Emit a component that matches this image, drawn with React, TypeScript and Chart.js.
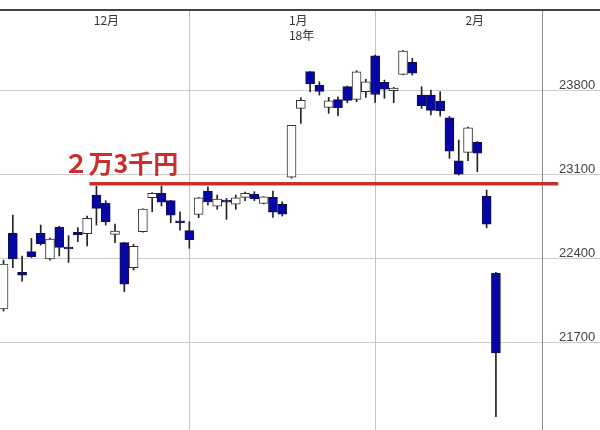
import { useEffect, useRef } from 'react';
import { Chart, registerables } from 'chart.js';

Chart.register(...registerables);

// Trading days (Nikkei 225 daily candles)
const days = [
  '2017-11-16', '2017-11-17', '2017-11-20', '2017-11-21', '2017-11-22', '2017-11-24', '2017-11-27', '2017-11-28', '2017-11-29', '2017-11-30',
  '2017-12-01', '2017-12-04', '2017-12-05', '2017-12-06', '2017-12-07', '2017-12-08', '2017-12-11', '2017-12-12', '2017-12-13', '2017-12-14',
  '2017-12-15', '2017-12-18', '2017-12-19', '2017-12-20', '2017-12-21', '2017-12-22', '2017-12-25', '2017-12-26', '2017-12-27', '2017-12-28',
  '2017-12-29', '2018-01-04', '2018-01-05', '2018-01-09', '2018-01-10', '2018-01-11', '2018-01-12', '2018-01-15', '2018-01-16', '2018-01-17',
  '2018-01-18', '2018-01-19', '2018-01-22', '2018-01-23', '2018-01-24', '2018-01-25', '2018-01-26', '2018-01-29', '2018-01-30', '2018-01-31',
  '2018-02-01', '2018-02-02', '2018-02-05', '2018-02-06',
];

const opens = [
  21975, 22606, 22281, 22453, 22606, 22392, 22656, 22492, 22614, 22603,
  22925, 22856, 22597, 22528, 22319, 22619, 22903, 22939, 22878, 22703,
  22628, 22764, 22958, 22833, 22869, 22848, 22906, 22933, 22856, 22906,
  22848, 23073, 23647, 23953, 23842, 23656, 23720, 23828, 23722, 23786,
  24086, 23864, 23794, 23931, 24031, 23758, 23758, 23708, 23569, 23211,
  23281, 23364, 22917, 22273,
];
const highs = [
  22383, 22758, 22417, 22564, 22675, 22567, 22665, 22586, 22653, 22750,
  23000, 22878, 22683, 22530, 22514, 22811, 22945, 23000, 22880, 22786,
  22703, 22905, 22994, 22925, 22897, 22925, 22950, 22953, 22911, 22958,
  22869, 23506, 23736, 23953, 23869, 23739, 23744, 23834, 23961, 23889,
  24092, 23883, 23822, 24129, 24064, 23828, 23800, 23786, 23580, 23383,
  23492, 23370, 22967, 22280,
];
const lows = [
  21958, 22320, 22208, 22405, 22508, 22383, 22417, 22364, 22536, 22500,
  22675, 22675, 22528, 22119, 22300, 22615, 22786, 22833, 22694, 22633,
  22481, 22736, 22842, 22806, 22722, 22806, 22878, 22878, 22850, 22739,
  22750, 23065, 23522, 23786, 23758, 23606, 23586, 23694, 23703, 23739,
  23697, 23731, 23694, 23925, 23925, 23647, 23592, 23583, 23231, 23092,
  23211, 23119, 22652, 21078,
];
const closes = [
  22350, 22392, 22258, 22411, 22519, 22558, 22489, 22475, 22592, 22731,
  22814, 22703, 22625, 22183, 22498, 22808, 22939, 22866, 22758, 22694,
  22553, 22901, 22868, 22891, 22866, 22902, 22939, 22892, 22911, 22783,
  22765, 23506, 23715, 23850, 23788, 23710, 23653, 23714, 23951, 23868,
  23763, 23808, 23816, 24124, 23940, 23669, 23631, 23629, 23291, 23098,
  23486, 23274, 22682, 21610,
];

const yTicks = [21700, 22400, 23100, 23800];
const yMin = 20967;
const yMax = 24467;
const xMin = -0.38;
const xMax = 57.96;

const levelValue = 23020;
const levelLabel = '２万3千円';
const levelStart = 9.25;
const levelEnd = 59.7;

const RED = '#c8302f';
const BLUE = '#0606a4';

// month boundaries derived from the trading days
const boundaries: { value: number; label: string; year?: string }[] = [];
for (let i = 1; i < days.length; i++) {
  const [py, pm] = days[i - 1].split('-');
  const [cy, cm] = days[i].split('-');
  if (pm !== cm) {
    boundaries.push({
      value: i - 0.5,
      label: `${parseInt(cm, 10)}月`,
      year: py !== cy ? `${cy.slice(2)}年` : undefined,
    });
  }
}

const overlayPlugin = {
  id: 'overlayText',
  afterDraw(chart: any) {
    const { ctx, chartArea } = chart;
    const x = chart.scales.x;
    const y = chart.scales.y;
    ctx.save();
    // top frame line across the whole width
    ctx.strokeStyle = '#444444';
    ctx.lineWidth = 2;
    ctx.beginPath();
    ctx.moveTo(0, chartArea.top);
    ctx.lineTo(chart.width, chartArea.top);
    ctx.stroke();

    ctx.font = '12px "Noto Sans CJK JP"';
    ctx.fillStyle = '#333';
    ctx.textBaseline = 'top';
    ctx.textAlign = 'left';
    boundaries.forEach((b) => {
      const px = x.getPixelForValue(b.value) + 2;
      ctx.fillText(b.label, px, chartArea.top + 4);
      if (b.year) ctx.fillText(b.year, px, chartArea.top + 19);
    });
    ctx.font = 'bold 25px "Noto Sans CJK JP"';
    ctx.fillStyle = RED;
    ctx.textBaseline = 'alphabetic';
    const ly = y.getPixelForValue(levelValue);
    ctx.fillText(levelLabel, x.getPixelForValue(levelStart) - 26, ly - 11);
    ctx.restore();
  },
};

export default function App() {
  const canvasRef = useRef<HTMLCanvasElement | null>(null);

  useEffect(() => {
    if (!canvasRef.current) return;
    const up = (i: number) => closes[i] >= opens[i];
    const chart = new Chart(canvasRef.current, {
      type: 'bar',
      data: {
        datasets: [
          {
            type: 'line',
            data: [
              { x: levelStart, y: levelValue },
              { x: levelEnd, y: levelValue },
            ],
            borderColor: RED,
            borderWidth: 3.5,
            pointRadius: 0,
            clip: false,
          } as any,
          {
            data: days.map((_, i) => ({ x: i, y: [opens[i], closes[i]] })),
            backgroundColor: days.map((_, i) => (up(i) ? '#ffffff' : BLUE)),
            borderColor: days.map((_, i) => (up(i) ? '#333333' : '#10104a')),
            borderWidth: 1,
            borderSkipped: false,
            barThickness: 9,
            minBarLength: 2,
            grouped: false,
          } as any,
          {
            data: days.map((_, i) => ({ x: i, y: [lows[i], highs[i]] })),
            backgroundColor: '#222222',
            borderWidth: 0,
            barThickness: 1,
            grouped: false,
          } as any,
        ],
      },
      options: {
        animation: false,
        responsive: false,
        layout: { padding: { top: 10, left: 0, right: 0, bottom: 0 } },
        plugins: { legend: { display: false }, tooltip: { enabled: false } },
        scales: {
          x: {
            type: 'linear',
            position: 'top',
            min: xMin,
            max: xMax,
            offset: false,
            afterBuildTicks: (s: any) => {
              s.ticks = boundaries.map((b) => ({ value: b.value }));
            },
            grid: { color: '#c4c4c4', drawTicks: false },
            border: { display: true, color: '#444444', width: 2 },
            ticks: { display: false },
          },
          y: {
            position: 'right',
            min: yMin,
            max: yMax,
            afterBuildTicks: (s: any) => {
              s.ticks = yTicks.map((v) => ({ value: v }));
            },
            afterFit: (s: any) => {
              s.width = 58;
            },
            grid: { color: '#cccccc', drawTicks: true, tickLength: 58, tickColor: '#cccccc' },
            border: { display: true, color: '#8c8c8c', width: 1 },
            ticks: {
              padding: -41,
              labelOffset: -5,
              color: '#444444',
              font: { family: 'Liberation Sans', size: 13 },
              callback: (v: any) => String(v),
            },
          },
        },
      } as any,
      plugins: [overlayPlugin],
    });
    return () => chart.destroy();
  }, []);

  return (
    <div style={{ position: 'fixed', left: 0, top: 0, width: 600, height: 430, background: '#fff' }}>
      <canvas ref={canvasRef} width={600} height={430} style={{ display: 'block' }} />
    </div>
  );
}
